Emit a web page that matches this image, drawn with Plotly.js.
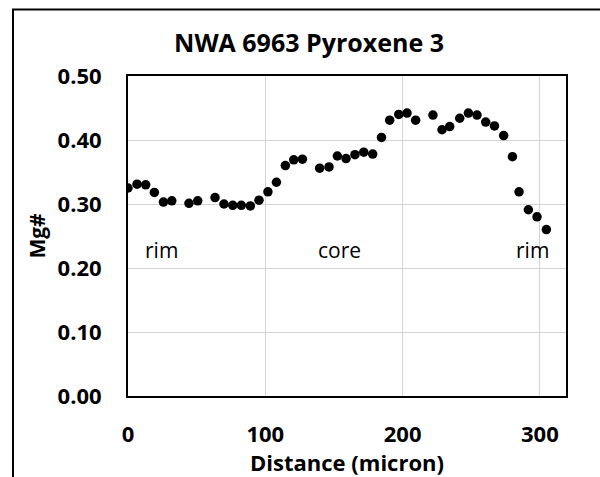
<!DOCTYPE html>
<html>
<head>
<meta charset="utf-8">
<script src="https://cdn.plot.ly/plotly-3.0.1.min.js"></script>
<style>html,body{margin:0;padding:0;background:#fff;}#chart{width:600px;height:477px;}</style>
</head>
<body>
<div id="chart"></div>
<script>
const distance = [0, 6.6, 12.9, 19.2, 25.8, 31.9, 44.4, 50.8, 63.4, 69.9, 76.3, 82.5, 89.1, 95.4, 101.9, 108.1, 114.6, 120.7, 127.0, 139.6, 146.4, 152.5, 158.8, 165.3, 171.7, 178.2, 184.6, 190.6, 197.2, 203.2, 209.5, 222.1, 228.7, 234.3, 241.6, 247.9, 254.2, 260.5, 266.9, 273.6, 280.0, 284.8, 291.6, 297.9, 304.7];
const mgNumber = [0.325, 0.331, 0.330, 0.318, 0.303, 0.305, 0.301, 0.305, 0.310, 0.300, 0.298, 0.298, 0.297, 0.306, 0.319, 0.334, 0.360, 0.369, 0.370, 0.356, 0.358, 0.375, 0.371, 0.377, 0.381, 0.378, 0.404, 0.431, 0.440, 0.442, 0.431, 0.439, 0.416, 0.421, 0.434, 0.442, 0.439, 0.428, 0.422, 0.407, 0.374, 0.319, 0.291, 0.280, 0.260];
const xTicks = [0, 100, 200, 300];
const yTicks = [0, 0.1, 0.2, 0.3, 0.4, 0.5];
const yTickText = ['0.00', '0.10', '0.20', '0.30', '0.40', '0.50'];
const labels = ['rim', 'core', 'rim'];
const labelX = [24.5, 154, 294.7];
const labelY = [0.228, 0.228, 0.228];

const font = 'Open Sans, Lato, sans-serif';
const trace = {
  x: distance, y: mgNumber, type: 'scatter', mode: 'markers',
  marker: {color: '#000000', size: 9.5}, hoverinfo: 'x+y', showlegend: false
};
const layout = {
  width: 600, height: 477,
  margin: {l: 128, r: 34, t: 76, b: 81},
  paper_bgcolor: '#ffffff', plot_bgcolor: '#ffffff',
  title: {text: '<b>NWA 6963 Pyroxene 3</b>', font: {family: font, size: 25, color: '#000'}, x: 0.515, xanchor: 'center', y: 0.91, yanchor: 'middle'},
  xaxis: {
    range: [0, 319], tickvals: xTicks, ticktext: xTicks.map(String),
    showgrid: true, gridcolor: '#d4d4d4', gridwidth: 1, zeroline: false,
    showline: true, linecolor: '#000', linewidth: 2, mirror: true, ticks: '',
    ticklabelstandoff: 18,
    tickfont: {family: font, size: 22, color: '#000', weight: 'bold'},
    title: {text: '<b>Distance (micron)</b>', font: {family: font, size: 22, color: '#000'}, standoff: 0}
  },
  yaxis: {
    range: [0, 0.5], tickvals: yTicks, ticktext: yTickText,
    showgrid: true, gridcolor: '#d4d4d4', gridwidth: 1, zeroline: false,
    showline: true, linecolor: '#000', linewidth: 2, mirror: true, ticks: '',
    ticklabelstandoff: 20,
    tickfont: {family: font, size: 22, color: '#000', weight: 'bold'},
    title: {text: '<b>Mg#</b>', font: {family: font, size: 21, color: '#000'}, standoff: 6}
  },
  annotations: labels.map((t, i) => ({
    x: labelX[i], y: labelY[i], xref: 'x', yref: 'y', text: t, showarrow: false,
    font: {family: font, size: 21, color: '#000'}
  })),
  shapes: [{
    type: 'rect', xref: 'paper', yref: 'paper',
    x0: (13 - 128) / 438, x1: (603 - 128) / 438,
    y0: (396 - 490) / 320, y1: (396 - 9.5) / 320,
    line: {color: '#000', width: 2}, fillcolor: 'rgba(0,0,0,0)', layer: 'above'
  }]
};
Plotly.newPlot('chart', [trace], layout, {displayModeBar: false, staticPlot: true});
</script>
</body>
</html>
